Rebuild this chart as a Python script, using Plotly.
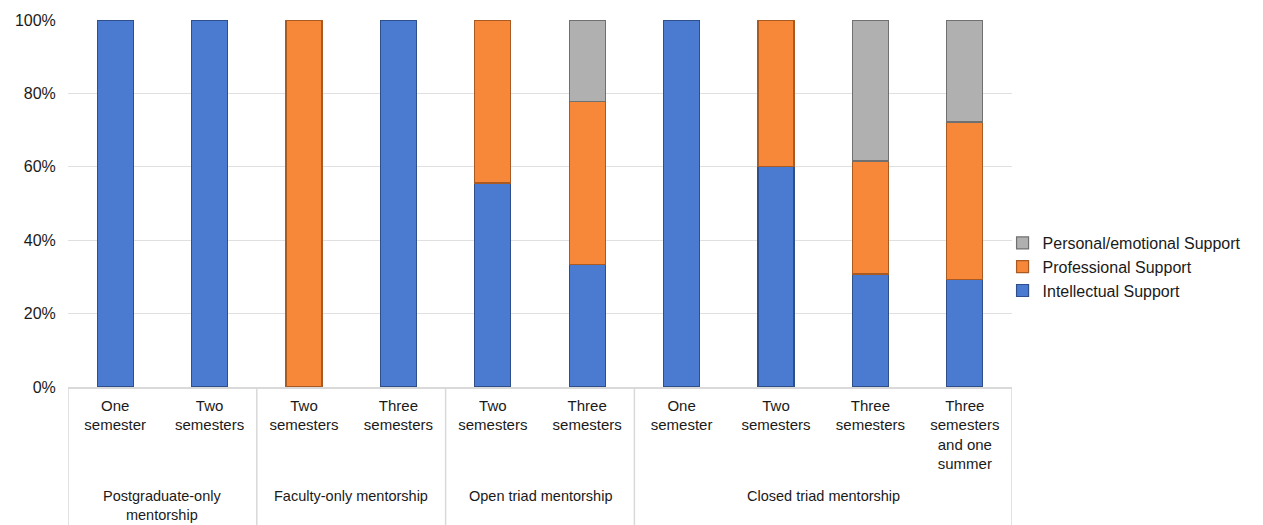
import plotly.graph_objects as go

# Mentorship structure groups and the durations within each
groups = ["Postgraduate-only<br>mentorship", "Faculty-only mentorship",
          "Open triad mentorship", "Closed triad mentorship"]
group_sizes = [2, 2, 2, 4]
durations = ["One<br>semester", "Two<br>semesters",
             "Two<br>semesters", "Three<br>semesters",
             "Two<br>semesters", "Three<br>semesters",
             "One<br>semester", "Two<br>semesters", "Three<br>semesters",
             "Three<br>semesters<br>and one<br>summer"]

# Share of each support type (%)
intellectual = [100, 100, 0, 100, 55.6, 33.3, 100, 60, 30.8, 29.4]
professional = [0, 0, 100, 0, 44.4, 44.4, 0, 40, 30.8, 42.8]
personal = [0, 0, 0, 0, 0, 22.3, 0, 0, 38.4, 27.8]
y_ticks = [0, 20, 40, 60, 80, 100]
y_tick_text = ["0%", "20%", "40%", "60%", "80%", "100%"]

series = [
    ("Intellectual Support", intellectual, "#4A7BD0", "#2F4F8A"),
    ("Professional Support", professional, "#F7883A", "#A85A22"),
    ("Personal/emotional Support", personal, "#B0B0B0", "#707070"),
]

x_pos = list(range(len(durations)))
FONT = "Liberation Sans, Arial, sans-serif"
TEXT = "#1A1A1A"

fig = go.Figure()
for name, vals, fill, edge in series:
    fig.add_trace(go.Bar(
        x=x_pos,
        y=[v if v else None for v in vals],
        name=name,
        marker=dict(color=fill, line=dict(color=edge, width=1.2)),
    ))

# Vertical separators between groups in the category band
bounds = [-0.5]
for n in group_sizes:
    bounds.append(bounds[-1] + n)
band_bottom = -138 / 367
for b in bounds:
    fig.add_shape(type="line", xref="x", yref="paper", x0=b, x1=b,
                  y0=0, y1=band_bottom, line=dict(color="#D9D9D9", width=1.5))

# Group labels
for i, g in enumerate(groups):
    centre = (bounds[i] + bounds[i + 1]) / 2
    fig.add_annotation(x=centre, y=-0.27, xref="x", yref="paper",
                       text=g, showarrow=False, yanchor="top",
                       font=dict(family=FONT, size=14.5, color=TEXT))

fig.update_layout(
    width=1263, height=525,
    margin=dict(l=68, r=251, t=20, b=138, autoexpand=False),
    barmode="stack", bargap=0.62,
    plot_bgcolor="white", paper_bgcolor="white",
    font=dict(family=FONT, color=TEXT),
    legend=dict(x=0.99, y=0.327, xanchor="left", yanchor="middle",
                traceorder="reversed", font=dict(size=16),
                bgcolor="rgba(0,0,0,0)",
                itemwidth=30, tracegroupgap=0),
    xaxis=dict(range=[-0.5, 9.5], tickmode="array", tickvals=x_pos,
               ticktext=durations, showgrid=False, zeroline=False,
               showline=True, linecolor="#D9D9D9", linewidth=1.5,
               ticks="outside", ticklen=4, tickcolor="rgba(0,0,0,0)",
               tickfont=dict(family=FONT, size=15, color=TEXT), tickangle=0),
    yaxis=dict(range=[0, 100], tickmode="array", tickvals=y_ticks,
               ticktext=y_tick_text,
               showgrid=True, gridcolor="#E0E0E0", gridwidth=1.2,
               zeroline=False, showline=False,
               tickfont=dict(family=FONT, size=16, color=TEXT),
               ticks="outside", ticklen=8, tickcolor="rgba(0,0,0,0)"),
)

fig.write_html("out.html")
